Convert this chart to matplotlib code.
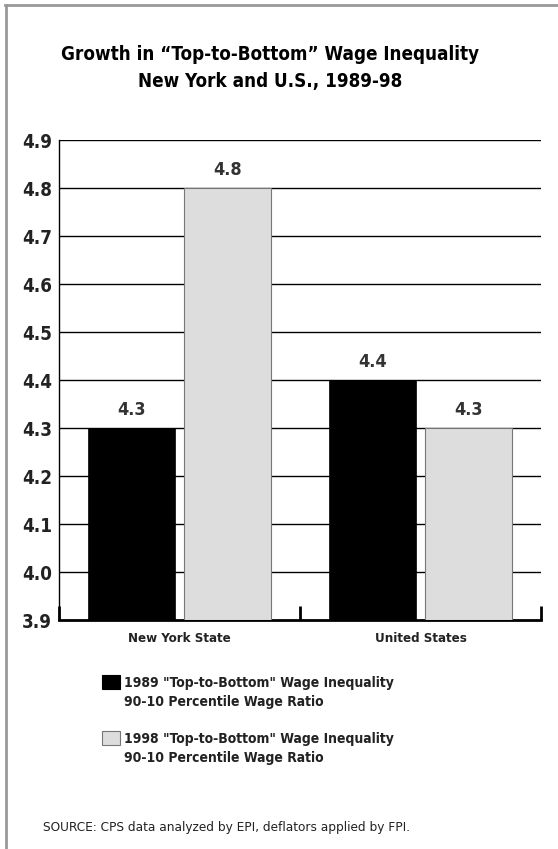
import numpy as np
import matplotlib
matplotlib.use("Agg")
import matplotlib.pyplot as plt
from matplotlib import font_manager
from matplotlib.patches import Rectangle
from matplotlib.lines import Line2D

# data
categories = ["New York State", "United States"]
ratio_1989 = [4.3, 4.4]
ratio_1998 = [4.8, 4.3]
series_labels = ['1989 "Top-to-Bottom" Wage Inequality\n90-10 Percentile Wage Ratio',
                 '1998 "Top-to-Bottom" Wage Inequality\n90-10 Percentile Wage Ratio']
yticks = [3.9, 4.0, 4.1, 4.2, 4.3, 4.4, 4.5, 4.6, 4.7, 4.8, 4.9]

# a narrow font is closest to the original; use condensed DejaVu if present
cond = any(f.name == "DejaVu Sans" and f.stretch == "condensed" for f in font_manager.fontManager.ttflist)
if cond:
    plt.rcParams["font.family"] = ["DejaVu Sans"]
    plt.rcParams["font.stretch"] = "condensed"
else:
    plt.rcParams["font.family"] = ["Liberation Sans", "DejaVu Sans"]
txt = "#222222"

fig = plt.figure(figsize=(5.58, 8.49), dpi=100)
ax = fig.add_axes([59/558, 1 - 620/849, 482/558, 480/849])

x = np.arange(len(categories))
w = 0.361
off = 0.199
ax.bar(x - off, [v - 3.9 for v in ratio_1989], w, bottom=3.9, color="black",
       edgecolor="black", linewidth=0.5, zorder=3)
ax.bar(x + off, [v - 3.9 for v in ratio_1998], w, bottom=3.9, color="#dddddd",
       edgecolor="#777777", linewidth=0.8, zorder=3)

for xi, v in zip(list(x - off) + list(x + off), ratio_1989 + ratio_1998):
    ax.text(xi, v + 0.018, f"{v:.1f}", ha="center", va="bottom", fontsize=13,
            fontweight="bold", color="#333333")

ax.set_xlim(-0.5, 1.5)
ax.set_ylim(3.9, 4.9)
ax.set_yticks(yticks)
ax.set_yticklabels([f"{t:.1f}" for t in yticks], fontsize=13.5, fontweight="bold", color=txt)
for t in yticks[1:]:
    ax.axhline(t, color="black", linewidth=1, zorder=1)

ax.set_xticks([-0.5, 0.5, 1.5])
ax.set_xticklabels([])
ax.set_xticks(x, minor=True)
ax.set_xticklabels(categories, minor=True, fontsize=9.5, fontweight="bold", color=txt)
ax.tick_params(axis="x", which="major", direction="in", length=10, width=2)
ax.tick_params(axis="x", which="minor", length=0, pad=9)
ax.tick_params(axis="y", length=0, pad=5)

for s in ["top", "right"]:
    ax.spines[s].set_visible(False)
ax.spines["bottom"].set_linewidth(2)
ax.spines["left"].set_linewidth(1)

fig.text(270/558, 1 - 55/849, "Growth in \u201cTop-to-Bottom\u201d Wage Inequality",
         ha="center", va="center", fontsize=13.5, fontweight="bold", color="black")
fig.text(270/558, 1 - 82/849, "New York and U.S., 1989-98",
         ha="center", va="center", fontsize=13.5, fontweight="bold", color="black")

# legend drawn by hand
legend_y = [682, 738]
for lab, fc, ec, ly in zip(series_labels, ["black", "#dddddd"], ["black", "#777777"], legend_y):
    fig.patches.append(Rectangle((102/558, 1 - (ly + 7)/849), 18/558, 14/849, transform=fig.transFigure,
                                 facecolor=fc, edgecolor=ec, linewidth=0.8))
    fig.text(124/558, 1 - (ly + 10.5)/849, lab, ha="left", va="center", fontsize=10,
             fontweight="bold", color=txt, linespacing=1.5)

fig.text(43/558, 1 - 827/849, "SOURCE: CPS data analyzed by EPI, deflators applied by FPI.",
         ha="left", va="center", fontsize=9.7, color=txt)

# frame lines at top and left
fig.add_artist(Line2D([5/558, 1], [1 - 5/849, 1 - 5/849], transform=fig.transFigure,
                      color="#999999", linewidth=2))
fig.add_artist(Line2D([6/558, 6/558], [0, 1 - 5/849], transform=fig.transFigure,
                      color="#999999", linewidth=2))

fig.savefig("out.png", dpi=100)
